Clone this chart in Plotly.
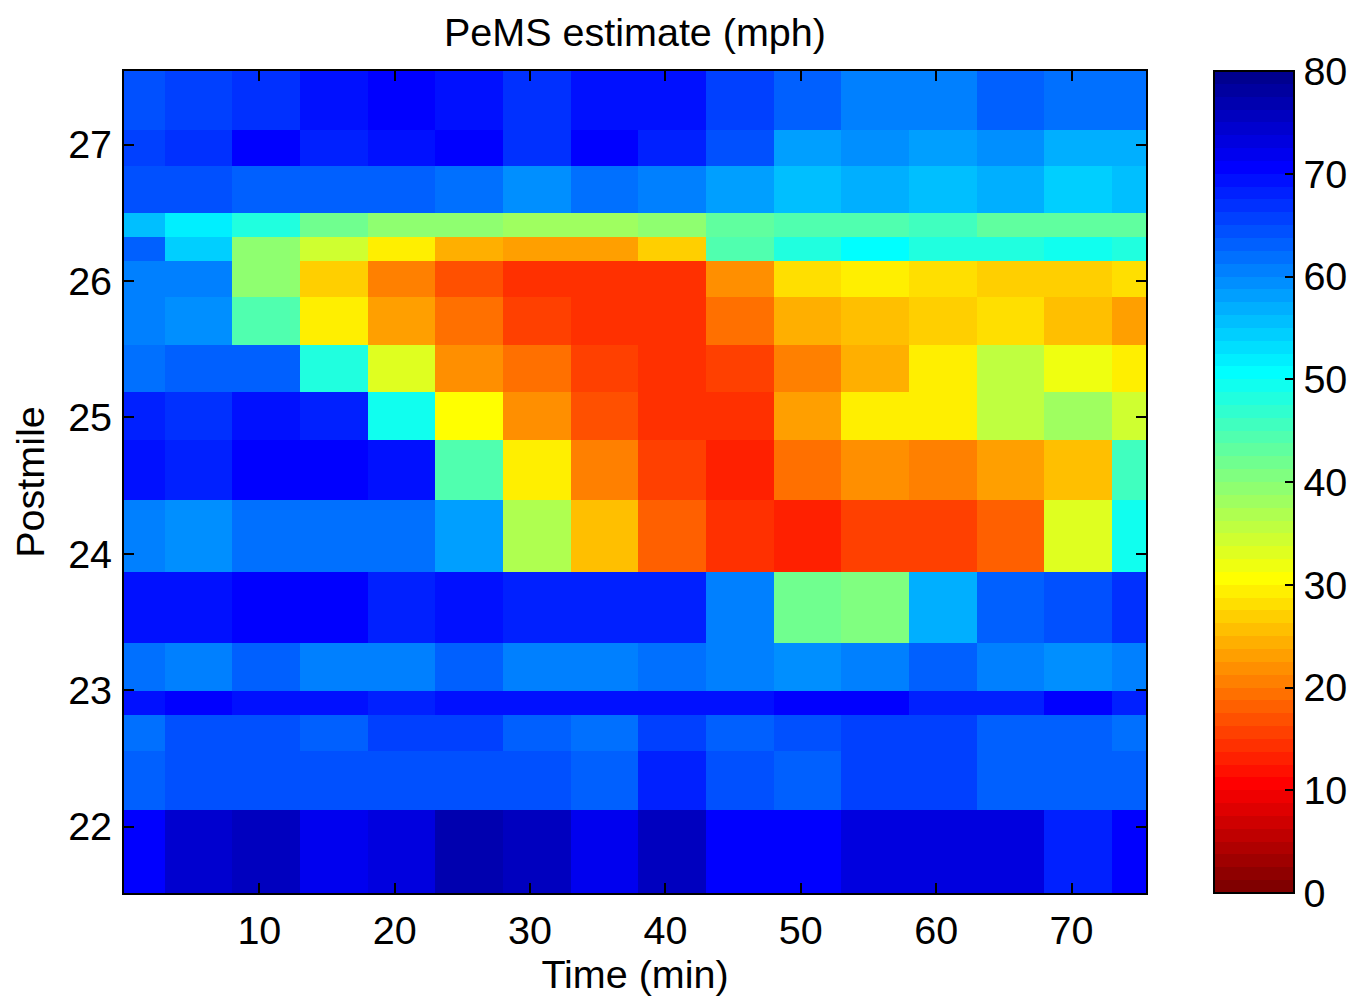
import numpy as np
import plotly.graph_objects as go

# ---- data -------------------------------------------------------------
# time bin edges (min)
time_edges = [0, 3, 8, 13, 18, 23, 28, 33, 38, 43, 48, 53, 58, 63, 68, 73, 75.5]
# postmile cell edges, top to bottom
postmile_edges = [27.54, 27.107, 26.841, 26.496, 26.320, 26.144, 25.880, 25.529,
                  25.183, 24.835, 24.395, 23.867, 23.346, 22.994, 22.818, 22.554,
                  22.121, 21.513]
# estimated speed (mph), rows top (high postmile) to bottom
speed_mph = [
    [64.4, 65.6, 66.9, 69.4, 70.6, 69.4, 66.9, 69.4, 69.4, 65.6, 63.1, 60.6, 60.6, 63.1, 61.9, 61.9],
    [65.6, 66.9, 70.6, 68.1, 69.4, 70.6, 66.9, 70.6, 68.1, 64.4, 58.1, 59.4, 58.1, 59.4, 56.9, 56.9],
    [64.4, 64.4, 63.1, 63.1, 63.1, 61.9, 59.4, 61.9, 60.6, 58.1, 55.6, 56.9, 55.6, 56.9, 54.4, 55.6],
    [55.6, 51.9, 48.1, 41.9, 39.4, 39.4, 38.1, 38.1, 39.4, 43.1, 44.4, 44.4, 45.6, 43.1, 43.1, 43.1],
    [63.1, 54.4, 39.4, 34.4, 29.4, 24.4, 23.1, 23.1, 26.9, 44.4, 48.1, 50.6, 48.1, 48.1, 49.4, 48.1],
    [60.6, 60.6, 39.4, 26.9, 20.6, 16.9, 14.4, 14.4, 14.4, 21.9, 28.1, 29.4, 28.1, 26.9, 26.9, 28.1],
    [60.6, 59.4, 44.4, 29.4, 23.1, 19.4, 15.6, 14.4, 14.4, 19.4, 24.4, 25.6, 26.9, 28.1, 25.6, 23.1],
    [61.9, 63.1, 63.1, 48.1, 33.1, 21.9, 19.4, 15.6, 14.4, 15.6, 20.6, 24.4, 29.4, 35.6, 31.9, 29.4],
    [68.1, 66.9, 69.4, 68.1, 49.4, 30.6, 21.9, 16.9, 14.4, 14.4, 23.1, 29.4, 29.4, 35.6, 38.1, 34.4],
    [69.4, 68.1, 70.6, 70.6, 69.4, 44.4, 29.4, 20.6, 15.6, 13.1, 19.4, 21.9, 20.6, 23.1, 25.6, 45.6],
    [60.6, 59.4, 61.9, 61.9, 61.9, 58.1, 36.9, 25.6, 18.1, 14.4, 13.1, 15.6, 15.6, 18.1, 33.1, 49.4],
    [69.4, 69.4, 70.6, 70.6, 68.1, 69.4, 68.1, 68.1, 68.1, 60.6, 41.9, 40.6, 56.9, 63.1, 64.4, 66.9],
    [61.9, 60.6, 63.1, 60.6, 60.6, 63.1, 60.6, 60.6, 61.9, 60.6, 59.4, 60.6, 63.1, 60.6, 59.4, 60.6],
    [69.4, 70.6, 69.4, 69.4, 68.1, 69.4, 69.4, 69.4, 69.4, 69.4, 70.6, 70.6, 68.1, 68.1, 70.6, 68.1],
    [61.9, 64.4, 64.4, 63.1, 65.6, 65.6, 63.1, 61.9, 65.6, 63.1, 64.4, 65.6, 65.6, 63.1, 63.1, 61.9],
    [63.1, 64.4, 64.4, 64.4, 64.4, 64.4, 64.4, 63.1, 68.1, 64.4, 63.1, 65.6, 65.6, 63.1, 63.1, 63.1],
    [70.6, 74.4, 75.6, 71.9, 73.1, 76.9, 75.6, 71.9, 75.6, 70.6, 70.6, 73.1, 73.1, 73.1, 68.1, 70.6],
]
x_ticks = [10, 20, 30, 40, 50, 60, 70]
y_ticks = [22, 23, 24, 25, 26, 27]
cbar_ticks = [0, 10, 20, 30, 40, 50, 60, 70, 80]
title_text = "PeMS estimate (mph)"


# ---- MATLAB jet(64), reversed (0 = dark red, 80 = dark blue) ----------
def matlab_jet(n=64):
    m = int(np.ceil(n / 4))
    u = np.concatenate([np.arange(1, m + 1) / m, np.ones(m - 1), np.arange(m, 0, -1) / m])
    g = int(np.ceil(m / 2)) - (1 if n % 4 == 1 else 0) + np.arange(1, len(u) + 1)
    r = g + m
    b = g - m
    J = np.zeros((n, 3))
    for idx, val in zip(g, u):
        if 1 <= idx <= n:
            J[idx - 1, 1] = val
    for idx, val in zip(r, u):
        if 1 <= idx <= n:
            J[idx - 1, 0] = val
    for idx, val in zip(b, u):
        if 1 <= idx <= n:
            J[idx - 1, 2] = val
    return J


J = matlab_jet(64)
cs = []
N = 64
for i in range(N):
    c = J[N - 1 - i]
    col = "rgb(%d,%d,%d)" % tuple(int(round(v * 255)) for v in c)
    cs.append([i / N, col])
    cs.append([(i + 1) / N, col])

z = speed_mph[::-1]
y_edges = postmile_edges[::-1]

FONT = "Liberation Sans, Arial, Helvetica, sans-serif"
FS = 39.5

# the page body adds an 8px offset; figure size/margins compensate for it
W, H = 1358, 988
ML, MR, MT, MB = 116, 220, 63, 103
PLOT_W = W - ML - MR

CB_X = 1.0667

fig = go.Figure(
    go.Heatmap(
        x=time_edges,
        y=y_edges,
        z=z,
        zmin=0,
        zmax=80,
        colorscale=cs,
        zsmooth=False,
        colorbar=dict(
            thickness=80,
            thicknessmode="pixels",
            len=1,
            lenmode="fraction",
            x=CB_X,
            xanchor="left",
            y=0.5,
            yanchor="middle",
            xpad=0,
            ypad=0,
            outlinewidth=2,
            outlinecolor="black",
            ticks="inside",
            ticklen=10,
            tickwidth=2,
            tickcolor="black",
            tickvals=cbar_ticks,
            tickfont=dict(family=FONT, size=FS, color="black"),
        ),
    )
)

# left-side ticks of the colour bar (MATLAB draws them on both sides)
for v in cbar_ticks[1:-1]:
    fig.add_shape(type="line", xref="paper", yref="paper",
                  x0=CB_X + 1 / PLOT_W, x1=CB_X + 11 / PLOT_W, y0=v / 80, y1=v / 80,
                  line=dict(color="black", width=2))

# title as an annotation above the plot
fig.add_annotation(text=title_text, xref="paper", yref="paper", x=0.5, y=1,
                   xanchor="center", yanchor="middle", yshift=39, showarrow=False,
                   font=dict(family=FONT, size=FS, color="black"))

axis_common = dict(
    ticks="inside",
    ticklen=10,
    tickwidth=2,
    tickcolor="black",
    showline=True,
    linecolor="black",
    linewidth=2,
    mirror="ticks",
    showgrid=False,
    zeroline=False,
    tickfont=dict(family=FONT, size=FS, color="black"),
)

fig.update_layout(
    width=W,
    height=H,
    margin=dict(l=ML, r=MR, t=MT, b=MB, pad=0, autoexpand=False),
    paper_bgcolor="white",
    plot_bgcolor="white",
    font=dict(family=FONT, size=FS, color="black"),
    xaxis=dict(range=[0, 75.5], tickvals=x_ticks, ticklabelstandoff=2,
               title=dict(text="Time (min)", standoff=12,
                          font=dict(family=FONT, size=FS, color="black")),
               **axis_common),
    yaxis=dict(range=[21.513, 27.54], tickvals=y_ticks, ticklabelstandoff=2,
               title=dict(text="Postmile", standoff=22,
                          font=dict(family=FONT, size=FS, color="black")),
               **axis_common),
)

fig.write_html("out.html")
